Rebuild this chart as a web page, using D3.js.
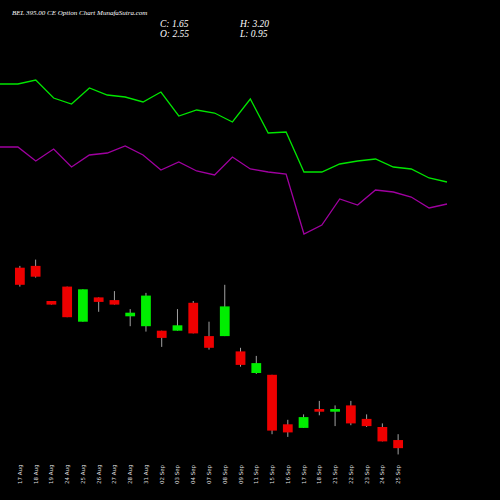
<!DOCTYPE html>
<html><head><meta charset="utf-8">
<script src="https://cdn.jsdelivr.net/npm/d3@7"></script>
<style>body{margin:0;background:#000}</style>
</head><body>
<svg id="chart" width="500" height="500"></svg>
<script>
var dates = ['17 Aug','18 Aug','19 Aug','24 Aug','25 Aug','26 Aug','27 Aug','28 Aug','31 Aug','02 Sep','03 Sep','04 Sep','07 Sep','08 Sep','09 Sep','11 Sep','15 Sep','16 Sep','17 Sep','18 Sep','21 Sep','22 Sep','23 Sep','24 Sep','25 Sep'];
var opens  = [21.7,21.9,18.0,19.6,15.7,18.4,18.1,16.3,15.2,14.7,14.7,17.8,14.1,14.1,12.4,10.0,9.8,4.3,3.9,6.0,5.7,6.4,4.9,4.0,2.55];
var closes = [19.8,20.7,17.6,16.2,19.3,17.9,17.6,16.7,18.6,13.9,15.3,14.4,12.8,17.4,10.9,11.1,3.6,3.4,5.1,5.7,6.0,4.4,4.1,2.4,1.65];
var highs  = [21.9,22.6,18.0,19.6,19.3,18.4,19.1,17.1,18.9,14.7,17.1,18.0,15.7,19.8,12.8,11.9,9.8,4.8,5.4,6.9,6.4,6.9,5.4,4.4,3.20];
var lows   = [19.6,20.6,17.6,16.2,15.7,16.8,17.6,15.2,14.6,12.9,14.7,14.4,12.6,14.1,10.7,9.9,3.2,2.9,3.9,5.3,4.1,4.2,4.0,2.4,0.95];
var greenLine  = [176,176,180,162,156,172,165,163,158,168,144,150,147,138,161,127,128,88,88,96,99,101,93,91,82,78];
var purpleLine = [113,113,99,111,93,105,107,114,105,90,98,89,85,103,91,88,86,26,35,61,55,70,68,63,52,56];

var svg = d3.select('#chart');
svg.append('rect').attr('width',500).attr('height',500).attr('fill','#000');

// header
svg.append('text').attr('x',12).attr('y',15).attr('fill','#fff')
	.style('font','italic 7px "Liberation Serif", serif')
	.text('BEL 395.00 CE Option Chart MunafaSutra.com');
var hdr = [['C: 1.65',160,27],['H: 3.20',240,27],['O: 2.55',160,37],['L: 0.95',240,37]];
svg.selectAll('text.hdr').data(hdr).enter().append('text').attr('class','hdr')
	.attr('x', function(d){ return d[1]; }).attr('y', function(d){ return d[2]; })
	.attr('fill','#fff').style('font','italic 9.5px "Liberation Serif", serif')
	.text(function(d){ return d[0]; });

// indicator lines
var xl = d3.scaleLinear().domain([0, greenLine.length-1]).range([0,447]);
var yl = d3.scaleLinear().domain([0,200]).range([260,60]);
var line = d3.line().x(function(d,i){ return xl(i); }).y(function(d){ return yl(d); });
svg.append('path').datum(greenLine).attr('d',line).attr('fill','none').attr('stroke','#00e600').attr('stroke-width',1.3);
svg.append('path').datum(purpleLine).attr('d',line).attr('fill','none').attr('stroke','#a000a0').attr('stroke-width',1.3);

// candles
var x = d3.scaleBand().domain(dates).range([9,409]).padding(0.38);
var y = d3.scaleLinear().domain([0,20]).range([463,283]);
var data = dates.map(function(d,i){ return {d:d,o:opens[i],c:closes[i],h:highs[i],l:lows[i]}; });
var g = svg.selectAll('g.candle').data(data).enter().append('g').attr('class','candle');
function col(d){ return d.c >= d.o ? '#00ee00' : '#ee0000'; }
g.append('line')
	.attr('x1', function(d){ return x(d.d)+x.bandwidth()/2; })
	.attr('x2', function(d){ return x(d.d)+x.bandwidth()/2; })
	.attr('y1', function(d){ return y(d.h); }).attr('y2', function(d){ return y(d.l); })
	.attr('stroke','#ccc').attr('stroke-width',0.8);
g.append('rect')
	.attr('x', function(d){ return x(d.d); }).attr('width', x.bandwidth())
	.attr('y', function(d){ return y(Math.max(d.o,d.c)); })
	.attr('height', function(d){ return Math.max(2, Math.abs(y(d.o)-y(d.c))); })
	.attr('fill', col);

// x labels
svg.selectAll('text.xl').data(dates).enter().append('text').attr('class','xl')
	.attr('transform', function(d){ return 'translate(' + (x(d)+x.bandwidth()/2+2) + ',484) rotate(-90)'; })
	.attr('fill','#ddd').style('font','5.5px "DejaVu Sans", sans-serif')
	.text(function(d){ return d; });
</script>
</body></html>
